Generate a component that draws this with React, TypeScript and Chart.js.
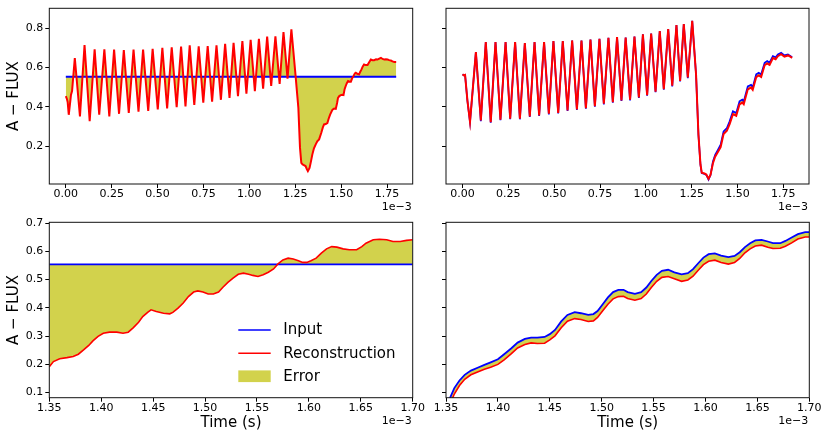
import React, { useEffect, useRef } from "react";
import { Chart, registerables } from "chart.js";

Chart.register(...registerables);

const FONT = "'DejaVu Sans', 'Liberation Sans', sans-serif";
const BLUE = "#0000ff";
const RED = "#ff0000";
const ERR = "rgba(191,191,0,0.7)";

const LEGEND_LABELS = ["Input", "Reconstruction", "Error"];
const Y_LABEL = "A − FLUX";
const X_LABEL = "Time (s)";
const OFFSET_LABEL = "1e−3";

const TOP_X_TICKS = [0, 0.25, 0.5, 0.75, 1.0, 1.25, 1.5, 1.75];
const TOP_Y_TICKS = [0.2, 0.4, 0.6, 0.8];
const BOT_X_TICKS = [1.35, 1.4, 1.45, 1.5, 1.55, 1.6, 1.65, 1.7];
const BOT_Y_TICKS = [0.1, 0.2, 0.3, 0.4, 0.5, 0.6, 0.7];

// ---- top-left: constant input, oscillating reconstruction ----
const TL_INPUT_TIME = [0, 1.8];
const TL_INPUT = [0.553, 0.553];
const TL_TIME = [
  0, 0.006, 0.01, 0.016, 0.028, 0.034, 0.049, 0.077, 0.102, 0.13, 0.157, 0.182, 0.21, 0.237, 0.263,
  0.29, 0.316, 0.343, 0.369, 0.396, 0.421, 0.449, 0.473, 0.501, 0.526, 0.552, 0.577, 0.604, 0.628,
  0.652, 0.675, 0.7, 0.724, 0.749, 0.773, 0.797, 0.821, 0.845, 0.868, 0.892, 0.914, 0.938, 0.962,
  0.984, 1.007, 1.03, 1.052, 1.075, 1.097, 1.119, 1.142, 1.165, 1.186, 1.208, 1.229, 1.252, 1.267,
  1.276, 1.283, 1.29, 1.297, 1.306, 1.313, 1.319, 1.328, 1.336, 1.343, 1.352, 1.361, 1.37, 1.38,
  1.392, 1.4, 1.407, 1.416, 1.425, 1.432, 1.44, 1.453, 1.462, 1.471, 1.478, 1.483, 1.49, 1.498,
  1.506, 1.513, 1.519, 1.525, 1.531, 1.538, 1.546, 1.553, 1.56, 1.567, 1.575, 1.58, 1.588, 1.598,
  1.605, 1.611, 1.618, 1.625, 1.634, 1.644, 1.652, 1.662, 1.671, 1.68, 1.69, 1.698, 1.708, 1.717,
  1.726, 1.735, 1.744, 1.753, 1.762, 1.771, 1.78, 1.79, 1.8,
];
const TL_RECON = [
  0.455, 0.44, 0.425, 0.36, 0.46, 0.48, 0.648, 0.352, 0.714, 0.328, 0.692, 0.36, 0.692, 0.352, 0.691,
  0.365, 0.688, 0.37, 0.691, 0.376, 0.691, 0.38, 0.695, 0.387, 0.7, 0.392, 0.702, 0.398, 0.706,
  0.402, 0.712, 0.41, 0.707, 0.422, 0.708, 0.427, 0.712, 0.436, 0.72, 0.446, 0.725, 0.455, 0.734,
  0.467, 0.74, 0.48, 0.745, 0.492, 0.756, 0.506, 0.758, 0.517, 0.78, 0.543, 0.793, 0.556, 0.395,
  0.192, 0.116, 0.108, 0.105, 0.1, 0.085, 0.074, 0.09, 0.125, 0.158, 0.19, 0.209, 0.225, 0.235,
  0.269, 0.295, 0.311, 0.313, 0.318, 0.34, 0.361, 0.386, 0.392, 0.39, 0.42, 0.446, 0.455, 0.46,
  0.462, 0.46, 0.49, 0.506, 0.52, 0.531, 0.528, 0.528, 0.545, 0.556, 0.57, 0.573, 0.568, 0.565,
  0.58, 0.59, 0.605, 0.615, 0.612, 0.612, 0.625, 0.64, 0.637, 0.637, 0.641, 0.64, 0.645, 0.649,
  0.643, 0.64, 0.642, 0.64, 0.637, 0.635, 0.631, 0.628, 0.628,
];

// ---- top-right: input and reconstruction nearly overlap ----
const TR_TIME = [
  0, 0.008, 0.014, 0.027, 0.041,
  0.073, 0.1, 0.127, 0.154, 0.18, 0.207, 0.235, 0.26, 0.287, 0.313,
  0.34, 0.367, 0.393, 0.418, 0.445, 0.471, 0.496, 0.522, 0.547, 0.573,
  0.598, 0.624, 0.649, 0.673, 0.698, 0.722, 0.747, 0.771, 0.796, 0.82,
  0.843, 0.867, 0.89, 0.914, 0.938, 0.962, 0.984, 1.007, 1.029, 1.053,
  1.076, 1.098, 1.122, 1.144, 1.167, 1.187, 1.207, 1.229, 1.253,
  1.274, 1.287, 1.298, 1.305, 1.32, 1.33, 1.342, 1.353,
  1.366, 1.378, 1.393, 1.408, 1.424, 1.442, 1.457, 1.475, 1.493, 1.511,
  1.526, 1.534, 1.556, 1.574, 1.583, 1.602, 1.616, 1.629, 1.648, 1.662,
  1.675, 1.693, 1.708, 1.72, 1.738, 1.756, 1.775, 1.788, 1.798,
];
const TR_INPUT = [
  0.565, 0.56, 0.562, 0.43, 0.323,
  0.678, 0.328, 0.729, 0.32, 0.729, 0.332, 0.729, 0.337, 0.729, 0.337,
  0.724, 0.349, 0.729, 0.354, 0.729, 0.362, 0.734, 0.367, 0.734, 0.379,
  0.737, 0.384, 0.737, 0.391, 0.742, 0.401, 0.745, 0.413, 0.75, 0.421,
  0.754, 0.43, 0.752, 0.433, 0.757, 0.445, 0.768, 0.457, 0.772, 0.474,
  0.785, 0.487, 0.795, 0.504, 0.815, 0.529, 0.82, 0.546, 0.837,
  0.563, 0.258, 0.106, 0.064, 0.06, 0.055, 0.031, 0.055,
  0.123, 0.157, 0.182, 0.208, 0.276, 0.293, 0.327, 0.378, 0.369, 0.428,
  0.437, 0.428, 0.504, 0.512, 0.5, 0.565, 0.573, 0.565, 0.624, 0.633,
  0.624, 0.658, 0.652, 0.666, 0.674, 0.661, 0.666, 0.658, 0.652,
];
const TR_RECON = [
  0.565, 0.56, 0.562, 0.431, 0.325,
  0.678, 0.331, 0.729, 0.323, 0.729, 0.335, 0.729, 0.34, 0.729, 0.34,
  0.724, 0.352, 0.729, 0.357, 0.729, 0.365, 0.734, 0.37, 0.734, 0.382,
  0.737, 0.387, 0.737, 0.394, 0.742, 0.404, 0.745, 0.416, 0.75, 0.424,
  0.754, 0.433, 0.752, 0.436, 0.757, 0.448, 0.768, 0.46, 0.772, 0.477,
  0.785, 0.49, 0.795, 0.507, 0.815, 0.532, 0.82, 0.549, 0.837,
  0.563, 0.259, 0.108, 0.066, 0.062, 0.057, 0.035, 0.056,
  0.114, 0.147, 0.171, 0.196, 0.262, 0.279, 0.313, 0.363, 0.355, 0.413,
  0.422, 0.414, 0.489, 0.498, 0.487, 0.551, 0.56, 0.552, 0.611, 0.62,
  0.613, 0.648, 0.642, 0.657, 0.667, 0.655, 0.661, 0.655, 0.649,
];

// ---- bottom-left: zoomed, constant input ----
const BL_INPUT_TIME = [1.35, 1.7];
const BL_INPUT = [0.554, 0.554];
const BL_TIME = [
  1.35, 1.354, 1.36, 1.367, 1.373, 1.378, 1.383, 1.388, 1.392, 1.397, 1.402, 1.408, 1.415, 1.421,
  1.426, 1.431, 1.436, 1.44, 1.445, 1.448, 1.453, 1.46, 1.466, 1.469, 1.474, 1.479, 1.484, 1.489,
  1.493, 1.498, 1.503, 1.508, 1.513, 1.517, 1.522, 1.527, 1.532, 1.537, 1.542, 1.546, 1.551, 1.556,
  1.561, 1.566, 1.57, 1.575, 1.58, 1.585, 1.59, 1.594, 1.598, 1.602, 1.607, 1.612, 1.617, 1.622,
  1.627, 1.633, 1.639, 1.646, 1.651, 1.655, 1.662, 1.668, 1.675, 1.681, 1.688, 1.694, 1.7,
];
const BL_RECON = [
  0.192, 0.21, 0.22, 0.224, 0.228, 0.236, 0.251, 0.267, 0.283, 0.299, 0.31, 0.314, 0.314, 0.31,
  0.314, 0.33, 0.349, 0.369, 0.385, 0.393, 0.387, 0.381, 0.379, 0.384, 0.399, 0.417, 0.44, 0.456,
  0.46, 0.456, 0.449, 0.449, 0.456, 0.472, 0.49, 0.505, 0.519, 0.523, 0.519, 0.515, 0.511, 0.517,
  0.526, 0.538, 0.555, 0.57, 0.576, 0.573, 0.567, 0.561, 0.561, 0.567, 0.576, 0.594, 0.609, 0.617,
  0.615, 0.609, 0.606, 0.606, 0.617, 0.629, 0.641, 0.643, 0.641, 0.635, 0.635, 0.639, 0.641,
];

// ---- bottom-right: zoomed, rising input with close reconstruction ----
const BR_TIME = [
  1.35, 1.354, 1.358, 1.363, 1.368, 1.374, 1.381, 1.387, 1.393, 1.4,
  1.406, 1.413, 1.419, 1.426, 1.432, 1.438, 1.445, 1.45, 1.455, 1.461,
  1.467, 1.474, 1.48, 1.487, 1.492, 1.496, 1.501, 1.506, 1.511, 1.516,
  1.521, 1.525, 1.532, 1.538, 1.543, 1.548, 1.553, 1.558, 1.564, 1.57,
  1.577, 1.583, 1.588, 1.593, 1.598, 1.603, 1.609, 1.615, 1.622, 1.628,
  1.633, 1.638, 1.643, 1.648, 1.654, 1.66, 1.665, 1.672, 1.677, 1.683,
  1.689, 1.696, 1.7,
];
const BR_INPUT = [
  0.05, 0.082, 0.116, 0.143, 0.163, 0.178, 0.189, 0.198, 0.207, 0.218,
  0.236, 0.257, 0.277, 0.29, 0.295, 0.295, 0.297, 0.307, 0.322, 0.352,
  0.375, 0.385, 0.381, 0.375, 0.378, 0.389, 0.413, 0.437, 0.456, 0.464,
  0.464, 0.456, 0.45, 0.456, 0.472, 0.496, 0.517, 0.531, 0.535, 0.526,
  0.519, 0.523, 0.537, 0.558, 0.578, 0.59, 0.593, 0.585, 0.58, 0.584,
  0.597, 0.615, 0.629, 0.639, 0.641, 0.635, 0.629, 0.629, 0.637, 0.649,
  0.661, 0.668, 0.668,
];
const BR_RECON = [
  0.03, 0.06, 0.095, 0.125, 0.147, 0.163, 0.174, 0.183, 0.19, 0.2,
  0.216, 0.238, 0.258, 0.27, 0.276, 0.274, 0.275, 0.287, 0.301, 0.33,
  0.353, 0.362, 0.359, 0.352, 0.354, 0.366, 0.39, 0.413, 0.432, 0.44,
  0.441, 0.433, 0.427, 0.433, 0.449, 0.473, 0.494, 0.508, 0.511, 0.503,
  0.494, 0.499, 0.512, 0.533, 0.553, 0.565, 0.569, 0.561, 0.555, 0.561,
  0.575, 0.595, 0.609, 0.619, 0.622, 0.615, 0.61, 0.611, 0.618, 0.63,
  0.644, 0.651, 0.651,
];

const pts = (xs: number[], ys: number[]) => xs.map((x, i) => ({ x, y: ys[i] }));

const PAGE_W = 830;
const PAGE_H = 443;

interface PanelSpec {
  box: [number, number, number, number];
  xMin: number;
  xMax: number;
  yMin: number;
  yMax: number;
  xTicks: number[];
  yTicks: number[];
  yLabels: boolean;
  xTitle: boolean;
  legend: boolean;
  datasets: any[];
}

const framePlugin = {
  id: "frame",
  afterDatasetsDraw(chart: any) {
    const { ctx, chartArea: a } = chart;
    ctx.save();
    ctx.strokeStyle = "#111";
    ctx.lineWidth = 1;
    ctx.strokeRect(a.left, a.top, a.right - a.left, a.bottom - a.top);
    ctx.restore();
  },
};

const offsetTextPlugin = {
  id: "offsetText",
  afterDraw(chart: any) {
    const { ctx, chartArea: a } = chart;
    ctx.save();
    ctx.font = `11px ${FONT}`;
    ctx.fillStyle = "#000";
    ctx.textAlign = "right";
    ctx.textBaseline = "middle";
    ctx.fillText(OFFSET_LABEL, a.right - 1, a.bottom + 23.5);
    ctx.restore();
  },
};

const legendPlugin = {
  id: "insideLegend",
  afterDraw(chart: any, _args: any, opts: any) {
    if (!opts || !opts.show) return;
    const { ctx, chartArea: a } = chart;
    const x0 = a.left + 189;
    const y0 = a.top + 107.7;
    const rowH = 23.2;
    const lineLen = 32.4;
    const colors = [BLUE, RED, ERR];
    ctx.save();
    ctx.font = `15px ${FONT}`;
    ctx.textAlign = "left";
    ctx.textBaseline = "middle";
    LEGEND_LABELS.forEach((label, i) => {
      const y = y0 + i * rowH;
      if (i < 2) {
        ctx.strokeStyle = colors[i];
        ctx.lineWidth = 1.6;
        ctx.beginPath();
        ctx.moveTo(x0, y);
        ctx.lineTo(x0 + lineLen, y);
        ctx.stroke();
      } else {
        ctx.fillStyle = colors[i];
        ctx.fillRect(x0, y - 6, lineLen, 11.7);
      }
      ctx.fillStyle = "#000";
      ctx.fillText(label, x0 + lineLen + 12.6, y + 0.5);
    });
    ctx.restore();
  },
};

function buildConfig(p: PanelSpec): any {
  const [L, T, R, B] = p.box;
  const yW = p.yLabels ? 45 : 20;
  const xH = p.xTitle ? 45 : 30;
  const tickFont = { family: FONT, size: 11 };
  return {
    type: "line",
    data: { datasets: p.datasets },
    options: {
      animation: false,
      responsive: false,
      maintainAspectRatio: false,
      events: [],
      layout: { padding: { left: L - yW, top: T, right: PAGE_W - R, bottom: PAGE_H - B - xH } },
      elements: { point: { radius: 0 }, line: { tension: 0, borderWidth: 1.8 } },
      plugins: {
        legend: { display: false },
        tooltip: { enabled: false },
        filler: { drawTime: "beforeDatasetsDraw" },
        insideLegend: { show: p.legend },
      },
      scales: {
        x: {
          type: "linear",
          min: p.xMin,
          max: p.xMax,
          afterBuildTicks: (s: any) => {
            s.ticks = p.xTicks.map((v) => ({ value: v }));
          },
          afterFit: (s: any) => {
            s.height = xH;
            s.paddingLeft = 0;
            s.paddingRight = 0;
          },
          ticks: {
            font: tickFont,
            color: "#000",
            padding: 0,
            autoSkip: false,
            maxRotation: 0,
            callback: (v: number) => Number(v).toFixed(2),
          },
          grid: { display: true, drawOnChartArea: false, drawTicks: true, tickLength: 4, color: "#000" },
          border: { display: false },
          title: {
            display: p.xTitle,
            text: X_LABEL,
            color: "#000",
            font: { family: FONT, size: 15 },
            padding: { top: 0, bottom: 10.7 },
          },
        },
        y: {
          type: "linear",
          min: p.yMin,
          max: p.yMax,
          afterBuildTicks: (s: any) => {
            s.ticks = p.yTicks.map((v) => ({ value: v }));
          },
          afterFit: (s: any) => {
            s.width = yW;
            s.paddingTop = 0;
            s.paddingBottom = 0;
          },
          ticks: {
            display: p.yLabels,
            font: tickFont,
            color: "#000",
            padding: 2,
            autoSkip: false,
            callback: (v: number) => Number(v).toFixed(1),
          },
          grid: { display: true, drawOnChartArea: false, drawTicks: true, tickLength: 4, color: "#000" },
          border: { display: false },
          title: {
            display: p.yLabels,
            text: Y_LABEL,
            color: "#000",
            font: { family: FONT, size: 15 },
            padding: { top: 1.2, bottom: 0 },
          },
        },
      },
    },
    plugins: [framePlugin, offsetTextPlugin, legendPlugin],
  };
}

const TOP_X_MIN = -0.09;
const TOP_X_MAX = 1.89;
const TOP_Y_MIN = 0.009;
const TOP_Y_MAX = 0.9;
const BOT_Y_MIN = 0.082;
const BOT_Y_MAX = 0.703;

const PANELS: PanelSpec[] = [
  {
    box: [49.3, 8.3, 412.7, 184],
    xMin: TOP_X_MIN, xMax: TOP_X_MAX, yMin: TOP_Y_MIN, yMax: TOP_Y_MAX,
    xTicks: TOP_X_TICKS, yTicks: TOP_Y_TICKS, yLabels: true, xTitle: false, legend: false,
    datasets: [
      {
        label: "Reconstruction",
        data: pts(TL_TIME, TL_RECON),
        borderColor: RED,
        borderWidth: 2,
        backgroundColor: ERR,
        fill: { value: TL_INPUT[0] },
      },
      { label: "Input", data: pts(TL_INPUT_TIME, TL_INPUT), borderColor: BLUE, borderWidth: 1.8, fill: false },
    ],
  },
  {
    box: [446, 8.3, 809, 184],
    xMin: TOP_X_MIN, xMax: TOP_X_MAX, yMin: TOP_Y_MIN, yMax: TOP_Y_MAX,
    xTicks: TOP_X_TICKS, yTicks: TOP_Y_TICKS, yLabels: false, xTitle: false, legend: false,
    datasets: [
      {
        label: "Reconstruction",
        data: pts(TR_TIME, TR_RECON),
        borderColor: RED,
        borderWidth: 2,
        backgroundColor: ERR,
        fill: 1,
      },
      { label: "Input", data: pts(TR_TIME, TR_INPUT), borderColor: BLUE, borderWidth: 1.7, fill: false },
    ],
  },
  {
    box: [49.3, 222.3, 412.7, 397.7],
    xMin: BOT_X_TICKS[0], xMax: BOT_X_TICKS[BOT_X_TICKS.length - 1], yMin: BOT_Y_MIN, yMax: BOT_Y_MAX,
    xTicks: BOT_X_TICKS, yTicks: BOT_Y_TICKS, yLabels: true, xTitle: true, legend: true,
    datasets: [
      {
        label: "Reconstruction",
        data: pts(BL_TIME, BL_RECON),
        borderColor: RED,
        borderWidth: 1.6,
        backgroundColor: ERR,
        fill: { value: BL_INPUT[0] },
      },
      { label: "Input", data: pts(BL_INPUT_TIME, BL_INPUT), borderColor: BLUE, borderWidth: 1.6, fill: false },
    ],
  },
  {
    box: [446, 222.3, 809.3, 397.7],
    xMin: BOT_X_TICKS[0], xMax: BOT_X_TICKS[BOT_X_TICKS.length - 1], yMin: BOT_Y_MIN, yMax: BOT_Y_MAX,
    xTicks: BOT_X_TICKS, yTicks: BOT_Y_TICKS, yLabels: false, xTitle: true, legend: false,
    datasets: [
      {
        label: "Reconstruction",
        data: pts(BR_TIME, BR_RECON),
        borderColor: RED,
        borderWidth: 1.6,
        backgroundColor: ERR,
        fill: 1,
      },
      { label: "Input", data: pts(BR_TIME, BR_INPUT), borderColor: BLUE, borderWidth: 1.8, fill: false },
    ],
  },
];

function PanelCanvas({ spec }: { spec: PanelSpec }) {
  const ref = useRef<HTMLCanvasElement>(null);
  useEffect(() => {
    const chart = new Chart(ref.current as HTMLCanvasElement, buildConfig(spec));
    return () => chart.destroy();
  }, [spec]);
  return (
    <canvas
      ref={ref}
      width={PAGE_W}
      height={PAGE_H}
      style={{ position: "absolute", left: 0, top: 0, width: PAGE_W, height: PAGE_H }}
    />
  );
}

export default function App() {
  return (
    <div
      style={{
        position: "fixed",
        left: 0,
        top: 0,
        width: PAGE_W,
        height: PAGE_H,
        background: "#fff",
        overflow: "hidden",
      }}
    >
      {PANELS.map((p, i) => (
        <PanelCanvas key={i} spec={p} />
      ))}
    </div>
  );
}
